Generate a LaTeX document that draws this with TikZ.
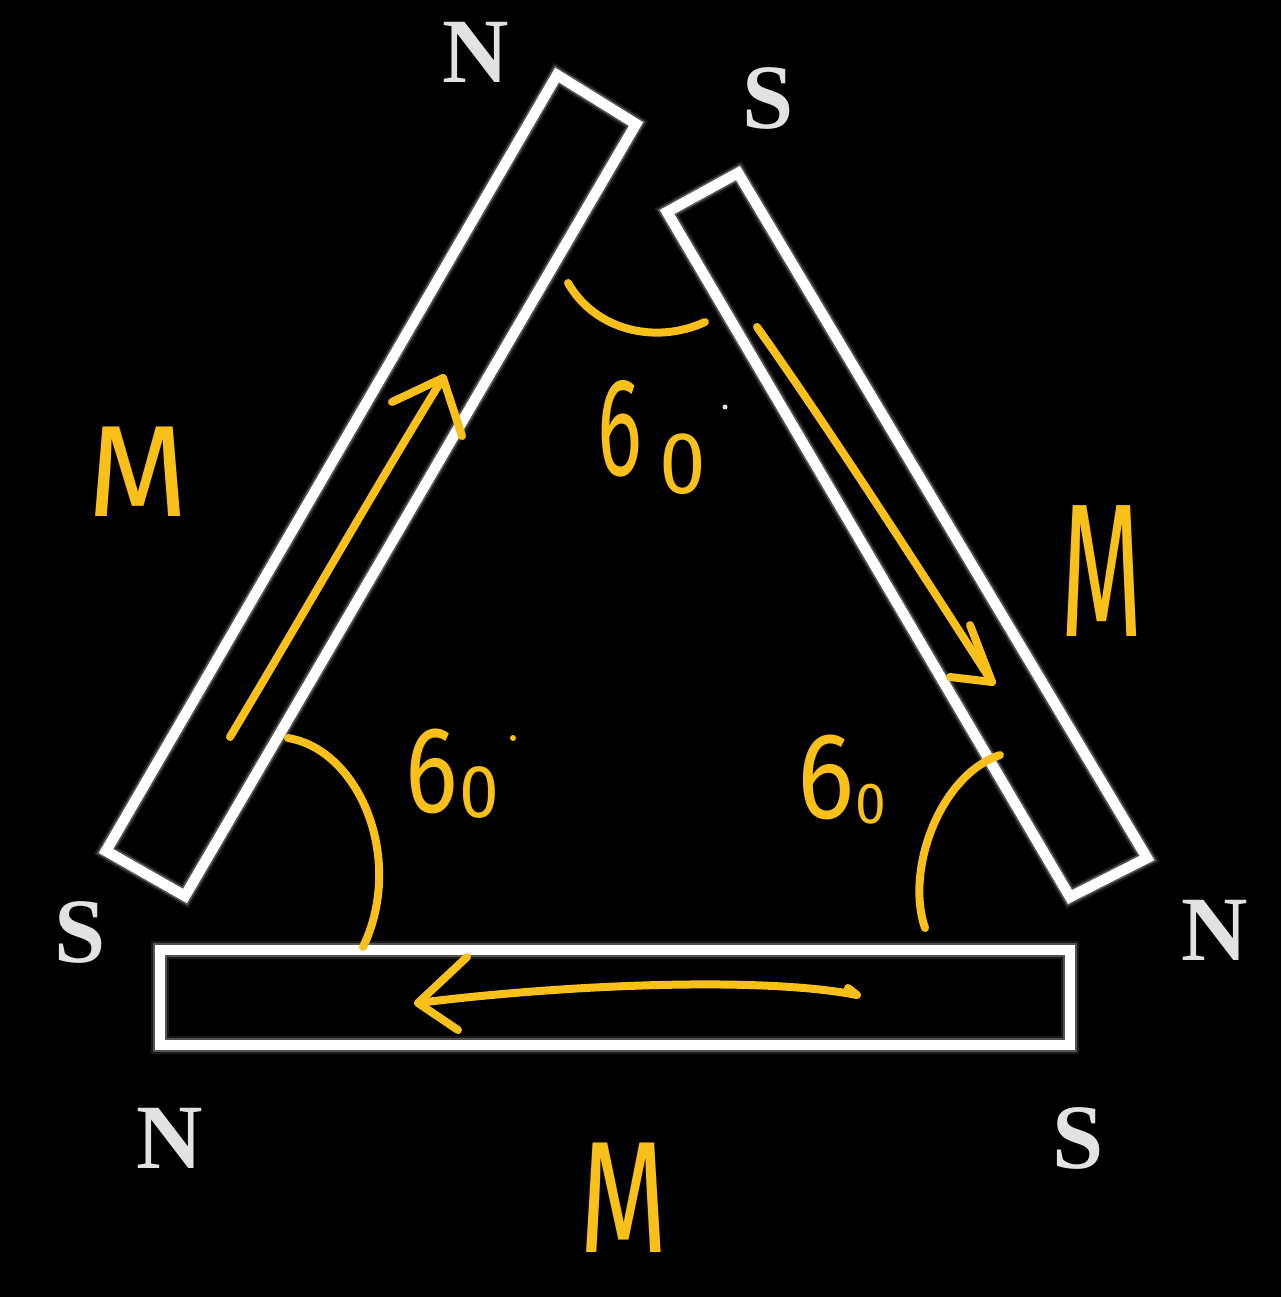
\documentclass[tikz,border=0pt]{standalone}
\usepackage{fontspec}
\setmainfont{Liberation Serif}
\newfontfamily\handfont{Fira Sans}
\definecolor{hand}{RGB}{248,192,24}
\definecolor{pole}{RGB}{226,226,226}
\begin{document}
\begin{tikzpicture}[x=1pt,y=-1pt,
  magglowa/.style={draw=white,draw opacity=0.10,line width=18pt,line join=miter},
  magglowb/.style={draw=white,draw opacity=0.25,line width=14pt,line join=miter},
  magnet/.style={draw=white,line width=10.5pt,line join=miter},
  polelabel/.style={text=pole,font=\fontsize{92}{92}\selectfont\bfseries,inner sep=0pt},
  ink/.style={draw=hand,line width=8pt,line cap=round,line join=round},
  handlabel/.style={text=hand,inner sep=0pt}]
\fill[black] (0,0) rectangle (1281,1297);
\useasboundingbox (0,0) rectangle (1281,1297);
% magnets
\foreach \st in {magglowa,magglowb,magnet}{
  \path[\st] (557,75) -- (636,124) -- (185,896) -- (106,851) -- cycle;
  \path[\st] (738,173) -- (1147,858) -- (1070,897) -- (667,212) -- cycle;
  \path[\st] (160,950) rectangle (1070,1045);
}
% pole labels
\node[polelabel] (nTop) at (476,52) {N};
\node[polelabel] (sTop) at (768,98) {S};
\node[polelabel] (sLeft) at (80,932) {S};
\node[polelabel] (nRight) at (1215,930) {N};
\node[polelabel] (nBot) at (170,1138) {N};
\node[polelabel] (sBot) at (1078,1138) {S};
% M labels
\node[handlabel,font=\handfont\fontsize{130}{130}\selectfont] (mLeft) at (138,472) {M};
\node[handlabel,font=\handfont\fontsize{190}{190}\selectfont] (mRight) at (1102,571) {\scalebox{0.56}[1]{M}};
\node[handlabel,font=\handfont\fontsize{60}{60}\selectfont] (mBot) at (624,1198) {\scalebox{1.9}[2.65]{M}};
% 60 labels
\node[handlabel,font=\handfont,anchor=base west] (aTop) at (597,475)
  {\scalebox{0.6}[1]{\fontsize{140}{140}\selectfont 6}\hspace{18pt}\raisebox{-18pt}{\scalebox{0.95}[1]{\fontsize{88}{88}\selectfont 0}}};
\node[handlabel,font=\handfont,anchor=base west] (aLeft) at (405,812)
  {\scalebox{0.8}[1]{\fontsize{123}{123}\selectfont 6}\hspace{2pt}\raisebox{-5pt}{\scalebox{0.95}[1]{\fontsize{75}{75}\selectfont 0}}};
\node[handlabel,font=\handfont,anchor=base west] (aRight) at (797,818)
  {\scalebox{0.87}[1]{\fontsize{123}{123}\selectfont 6}\hspace{1pt}\raisebox{-5pt}{\scalebox{0.95}[1]{\fontsize{58}{58}\selectfont 0}}};
\fill[pole] (725,407) circle (2.5pt);
\fill[hand] (513,738) circle (3pt);
% angle arcs
\draw[ink] (568,283) .. controls (595,330) and (655,345) .. (705,322);
\draw[ink] (288,738) .. controls (360,750) and (405,860) .. (363,947);
\draw[ink] (1000,755) .. controls (940,775) and (905,870) .. (925,928);
% arrows
\draw[ink] (230,737) .. controls (300,620) and (380,480) .. (443,378);
\draw[ink] (392,402) -- (443,378) -- (462,436);
\draw[ink] (757,327) .. controls (830,430) and (920,570) .. (992,682);
\draw[ink] (970,625) -- (992,682) -- (950,677);
\draw[ink] (848,988) -- (857,995) .. controls (760,976) and (560,985) .. (418,1003);
\draw[ink] (467,957) -- (418,1003) -- (458,1030);
\end{tikzpicture}
\end{document}
